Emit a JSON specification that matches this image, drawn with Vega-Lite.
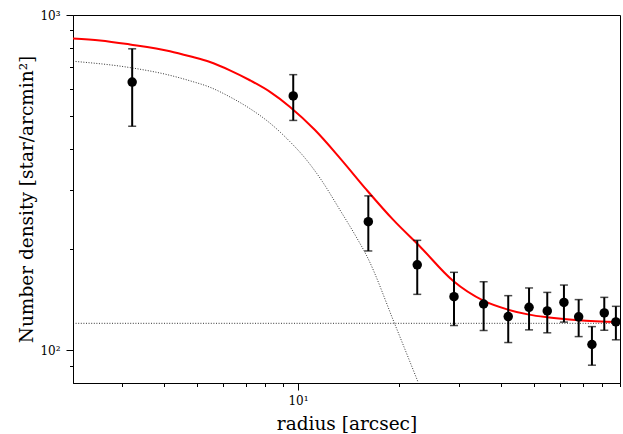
{
  "$schema": "https://vega.github.io/schema/vega-lite/v6.json",
  "width": 547,
  "height": 368,
  "autosize": {"type": "none"},
  "padding": {"left": 73, "top": 15, "right": 3, "bottom": 51},
  "background": "white",
  "config": {
    "view": {"stroke": "black", "strokeWidth": 1},
    "axis": {
      "grid": false,
      "domainColor": "black",
      "domainWidth": 1,
      "tickColor": "black",
      "tickWidth": 1,
      "labelFont": "DejaVu Serif",
      "labelFontSize": 12,
      "labelColor": "black",
      "titleFont": "DejaVu Serif",
      "titleFontSize": 18.5,
      "titleFontWeight": "normal",
      "titleColor": "black"
    }
  },
  "datasets": {
    "obs": [
      {"r": 3.22, "n": 631, "lo": 466, "hi": 793},
      {"r": 9.68, "n": 574, "lo": 485, "hi": 664},
      {"r": 16.17, "n": 242, "lo": 198, "hi": 289},
      {"r": 22.59, "n": 180, "lo": 147, "hi": 213},
      {"r": 29.04, "n": 144.7, "lo": 118.7, "hi": 171},
      {"r": 35.56, "n": 137.6, "lo": 114.7, "hi": 160.3},
      {"r": 42.07, "n": 126.2, "lo": 105.6, "hi": 145.7},
      {"r": 48.5, "n": 134.5, "lo": 115.2, "hi": 153.6},
      {"r": 54.93, "n": 131.2, "lo": 112.9, "hi": 149},
      {"r": 61.56, "n": 139.1, "lo": 121.5, "hi": 156.7},
      {"r": 68.08, "n": 126, "lo": 110, "hi": 141.8},
      {"r": 74.54, "n": 104.2, "lo": 90.4, "hi": 117.8},
      {"r": 81.1, "n": 129.4, "lo": 114.9, "hi": 144},
      {"r": 87.8, "n": 121.7, "lo": 107.6, "hi": 135.4}
    ],
    "fit": [
      {"r": 2.149, "n": 851},
      {"r": 2.585, "n": 840},
      {"r": 3.173, "n": 817},
      {"r": 4.17, "n": 780},
      {"r": 4.78, "n": 753},
      {"r": 5.48, "n": 724},
      {"r": 6.28, "n": 684},
      {"r": 7.2, "n": 639},
      {"r": 8.26, "n": 590},
      {"r": 9.47, "n": 532},
      {"r": 11.23, "n": 454},
      {"r": 13.32, "n": 374.6},
      {"r": 15.99, "n": 301},
      {"r": 19.18, "n": 245},
      {"r": 23.01, "n": 204.2},
      {"r": 28.84, "n": 161.4},
      {"r": 35.5, "n": 140.8},
      {"r": 42.0, "n": 132.4},
      {"r": 48.5, "n": 127.9},
      {"r": 54.8, "n": 125.6},
      {"r": 67.8, "n": 123.0},
      {"r": 90.3, "n": 121.5}
    ],
    "king": [
      {"r": 2.149, "n": 728},
      {"r": 3.173, "n": 697},
      {"r": 4.17, "n": 661},
      {"r": 4.78, "n": 636.6},
      {"r": 5.48, "n": 609},
      {"r": 6.28, "n": 570},
      {"r": 7.2, "n": 526},
      {"r": 8.26, "n": 476},
      {"r": 9.47, "n": 419},
      {"r": 10.49, "n": 374.6},
      {"r": 11.62, "n": 326.7},
      {"r": 13.32, "n": 262.4},
      {"r": 14.94, "n": 216.7},
      {"r": 15.99, "n": 191.6},
      {"r": 19.4, "n": 119.5},
      {"r": 22.75, "n": 80.2}
    ],
    "bg": [
      {"r": 2.149, "n": 120.5},
      {"r": 90.3, "n": 120.5}
    ]
  },
  "encoding": {
    "x": {
      "field": "r", "type": "quantitative",
      "scale": {"type": "log", "domain": [2.149, 90.3], "nice": false},
      "axis": {
        "title": "radius [arcsec]",
        "values": [3, 4, 5, 6, 7, 8, 9, 10, 20, 30, 40, 50, 60, 70, 80, 90],
        "labelExpr": "datum.value == 10 ? '10¹' : ''",
        "tickSize": {"condition": {"test": "datum.value == 10", "value": 7}, "value": 3.5},
        "labelPadding": 5,
        "titlePadding": 8,
        "labelFlush": false,
        "labelOverlap": false
      }
    },
    "y": {
      "field": "n", "type": "quantitative",
      "scale": {"type": "log", "domain": [80, 1000], "nice": false},
      "axis": {
        "title": "Number density [star/arcmin²]",
        "values": [90, 100, 200, 300, 400, 500, 600, 700, 800, 900, 1000],
        "labelExpr": "datum.value == 100 ? '10²' : (datum.value == 1000 ? '10³' : '')",
        "tickSize": {"condition": {"test": "datum.value == 100 || datum.value == 1000", "value": 7}, "value": 3.5},
        "labelPadding": 6,
        "titlePadding": 3,
        "labelFlush": false,
        "labelOverlap": false
      }
    }
  },
  "layer": [
    {
      "data": {"name": "bg"},
      "mark": {"type": "line", "color": "black", "strokeWidth": 0.8, "strokeDash": [1, 1.6], "clip": true}
    },
    {
      "data": {"name": "king"},
      "mark": {"type": "line", "color": "black", "strokeWidth": 0.8, "strokeDash": [1, 1.6], "interpolate": "monotone", "clip": true}
    },
    {
      "data": {"name": "fit"},
      "mark": {"type": "line", "color": "#ff0000", "strokeWidth": 2, "interpolate": "monotone", "clip": true}
    },
    {
      "data": {"name": "obs"},
      "mark": {"type": "errorbar", "color": "black", "thickness": 2, "ticks": {"size": 8, "thickness": 1.5, "color": "black"}},
      "encoding": {
        "y": {
          "field": "lo", "type": "quantitative",
          "scale": {"type": "log", "domain": [80, 1000], "nice": false},
          "axis": {
            "title": "Number density [star/arcmin²]",
            "values": [90, 100, 200, 300, 400, 500, 600, 700, 800, 900, 1000],
            "labelExpr": "datum.value == 100 ? '10²' : (datum.value == 1000 ? '10³' : '')",
            "tickSize": {"condition": {"test": "datum.value == 100 || datum.value == 1000", "value": 7}, "value": 3.5},
            "labelPadding": 6,
            "titlePadding": 3,
            "labelFlush": false,
            "labelOverlap": false
          }
        },
        "y2": {"field": "hi"}
      }
    },
    {
      "data": {"name": "obs"},
      "mark": {"type": "circle", "color": "black", "opacity": 1, "size": 90}
    }
  ]
}
